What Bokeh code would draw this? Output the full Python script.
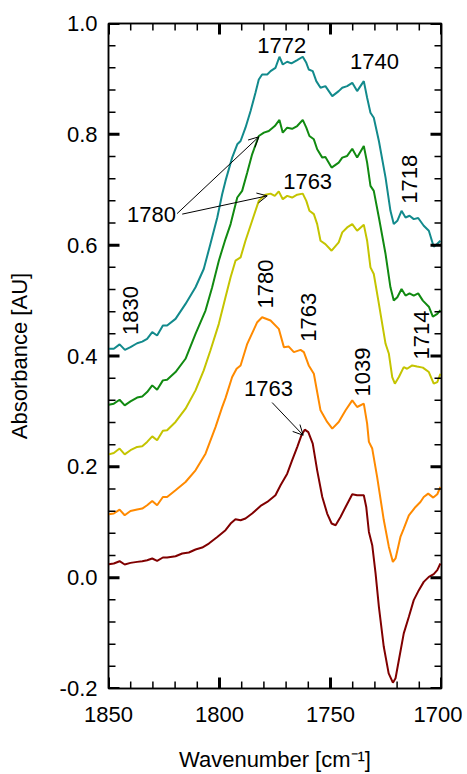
import math
from bokeh.plotting import figure
from bokeh.models import (Range1d, LinearAxis, FixedTicker, PrintfTickFormatter,
                          CustomJSTickFormatter, Label, Arrow, OpenHead)
from bokeh.embed import file_html
from bokeh.resources import INLINE

# (wavenumber, absorbance) pairs
teal = [(1849.9, 0.413), (1847.6, 0.413), (1845.0, 0.421), (1842.6, 0.411), (1840.1, 0.416),
        (1837.1, 0.423), (1834.8, 0.426), (1832.6, 0.431), (1830.3, 0.443), (1828.1, 0.437),
        (1825.5, 0.455), (1823.6, 0.455), (1819.8, 0.467), (1815.3, 0.494), (1810.8, 0.524),
        (1807.1, 0.557), (1804.1, 0.602), (1801.0, 0.650), (1798.8, 0.692), (1797.3, 0.716),
        (1794.3, 0.758), (1792.0, 0.782), (1790.5, 0.788), (1788.3, 0.812), (1786.0, 0.842),
        (1783.8, 0.875), (1782.3, 0.899), (1780.8, 0.908), (1778.5, 0.908), (1777.0, 0.914),
        (1774.8, 0.920), (1773.0, 0.940), (1771.5, 0.926), (1769.5, 0.931), (1767.6, 0.928),
        (1765.0, 0.934), (1762.5, 0.940), (1760.9, 0.929), (1759.8, 0.917), (1758.0, 0.914),
        (1756.4, 0.896), (1754.5, 0.884), (1752.3, 0.887), (1749.2, 0.869), (1746.3, 0.878),
        (1744.7, 0.884), (1742.5, 0.887), (1740.2, 0.893), (1738.0, 0.878), (1735.0, 0.896),
        (1733.5, 0.866), (1732.0, 0.839), (1730.5, 0.830), (1728.2, 0.788), (1725.2, 0.722),
        (1723.0, 0.662), (1721.5, 0.638), (1719.9, 0.644), (1718.0, 0.662), (1716.2, 0.650),
        (1714.4, 0.653), (1712.5, 0.647), (1710.5, 0.649), (1708.0, 0.635), (1705.7, 0.626),
        (1703.5, 0.597), (1702.0, 0.602), (1700.5, 0.608)]

green = [(1849.9, 0.312), (1847.6, 0.314), (1845.0, 0.321), (1842.7, 0.311), (1840.1, 0.318),
         (1837.1, 0.325), (1834.8, 0.327), (1832.6, 0.335), (1830.3, 0.347), (1828.1, 0.339),
         (1825.5, 0.356), (1823.6, 0.357), (1819.8, 0.371), (1815.3, 0.395), (1810.8, 0.440),
         (1806.3, 0.482), (1803.3, 0.524), (1800.3, 0.572), (1797.3, 0.611), (1795.0, 0.638),
         (1792.0, 0.686), (1789.8, 0.698), (1787.5, 0.731), (1785.3, 0.764), (1782.3, 0.797),
         (1780.0, 0.803), (1777.8, 0.806), (1775.1, 0.815), (1773.0, 0.826), (1771.5, 0.803),
         (1769.5, 0.812), (1767.3, 0.810), (1765.0, 0.815), (1762.5, 0.826), (1760.9, 0.812),
         (1759.5, 0.797), (1757.5, 0.791), (1756.0, 0.773), (1753.7, 0.758), (1752.3, 0.759),
         (1749.5, 0.740), (1746.3, 0.749), (1744.7, 0.758), (1742.5, 0.761), (1740.2, 0.774),
         (1738.0, 0.758), (1735.0, 0.779), (1733.5, 0.749), (1732.0, 0.707), (1730.5, 0.698),
         (1728.2, 0.650), (1725.2, 0.584), (1723.0, 0.524), (1721.5, 0.500), (1719.9, 0.506),
         (1718.0, 0.521), (1716.2, 0.509), (1714.4, 0.513), (1712.5, 0.509), (1710.5, 0.513),
         (1708.4, 0.500), (1705.7, 0.489), (1703.9, 0.471), (1701.9, 0.476), (1700.5, 0.483)]

yellow = [(1849.9, 0.2225), (1847.6, 0.225), (1845.0, 0.233), (1842.7, 0.2225), (1840.1, 0.230),
          (1837.1, 0.236), (1834.8, 0.237), (1832.6, 0.245), (1830.3, 0.255), (1828.1, 0.248),
          (1825.5, 0.265), (1823.6, 0.266), (1819.8, 0.281), (1815.3, 0.305), (1810.8, 0.338),
          (1807.1, 0.374), (1804.1, 0.410), (1800.3, 0.458), (1797.3, 0.506), (1795.0, 0.542),
          (1792.8, 0.572), (1790.5, 0.578), (1788.3, 0.608), (1785.3, 0.644), (1782.3, 0.680),
          (1779.3, 0.691), (1777.0, 0.693), (1775.1, 0.689), (1773.3, 0.697), (1771.5, 0.683),
          (1769.5, 0.689), (1767.3, 0.686), (1765.0, 0.691), (1762.5, 0.693), (1760.9, 0.680),
          (1759.5, 0.662), (1757.5, 0.656), (1756.0, 0.638), (1754.5, 0.608), (1752.3, 0.602),
          (1749.5, 0.590), (1746.3, 0.605), (1744.7, 0.623), (1742.5, 0.632), (1740.2, 0.638),
          (1738.0, 0.626), (1735.0, 0.637), (1733.5, 0.608), (1732.0, 0.560), (1730.5, 0.548),
          (1728.2, 0.494), (1725.2, 0.422), (1723.7, 0.404), (1722.2, 0.362), (1721.0, 0.350),
          (1719.2, 0.362), (1717.0, 0.380), (1715.5, 0.377), (1713.2, 0.383), (1711.0, 0.381),
          (1708.4, 0.379), (1705.7, 0.371), (1703.5, 0.350), (1701.9, 0.353), (1700.5, 0.368)]

orange = [(1849.9, 0.1144), (1847.6, 0.1157), (1845.0, 0.1229), (1842.7, 0.1126), (1840.1, 0.1204),
          (1837.1, 0.1229), (1834.8, 0.1247), (1832.6, 0.1306), (1830.3, 0.1384), (1828.1, 0.1306),
          (1825.5, 0.1456), (1823.6, 0.1456), (1819.8, 0.1577), (1815.3, 0.1726), (1810.8, 0.1937),
          (1806.3, 0.2238), (1801.8, 0.2717), (1798.8, 0.3077), (1797.3, 0.324), (1794.3, 0.362),
          (1792.3, 0.377), (1790.5, 0.383), (1787.5, 0.422), (1783.0, 0.461), (1780.8, 0.470),
          (1777.0, 0.464), (1773.3, 0.449), (1771.0, 0.416), (1768.8, 0.417), (1766.5, 0.407),
          (1763.5, 0.411), (1762.0, 0.407), (1759.8, 0.383), (1757.5, 0.368), (1754.5, 0.302),
          (1751.5, 0.281), (1749.2, 0.269), (1746.3, 0.281), (1743.2, 0.302), (1740.2, 0.320),
          (1738.0, 0.308), (1735.0, 0.314), (1733.5, 0.278), (1732.7, 0.245), (1731.2, 0.233),
          (1729.0, 0.182), (1726.0, 0.104), (1723.7, 0.0555), (1721.9, 0.0285), (1720.7, 0.0346),
          (1718.5, 0.0735), (1717.0, 0.0886), (1714.7, 0.1126), (1711.7, 0.1276), (1709.5, 0.1366),
          (1708.0, 0.1456), (1706.0, 0.1517), (1703.7, 0.1445), (1701.9, 0.1505), (1700.5, 0.1636)]

darkred = [(1849.9, 0.0243), (1847.6, 0.0256), (1845.0, 0.0297), (1842.7, 0.0238), (1840.1, 0.0267),
           (1837.1, 0.0285), (1834.8, 0.0297), (1832.6, 0.0315), (1830.3, 0.0346), (1828.1, 0.0303),
           (1825.5, 0.0364), (1823.6, 0.0364), (1819.8, 0.0387), (1816.8, 0.0436), (1813.8, 0.0454),
           (1810.8, 0.0508), (1807.8, 0.0544), (1804.8, 0.0616), (1801.0, 0.0735), (1797.3, 0.0856),
           (1795.0, 0.0977), (1792.8, 0.1054), (1790.5, 0.1036), (1788.3, 0.1067), (1785.3, 0.1157),
           (1781.5, 0.1294), (1778.5, 0.1366), (1774.8, 0.1486), (1772.5, 0.1667), (1769.5, 0.1877),
           (1767.3, 0.2117), (1765.0, 0.2357), (1763.1, 0.2568), (1761.6, 0.267), (1760.0, 0.2627),
           (1758.0, 0.2418), (1756.0, 0.1937), (1753.7, 0.1456), (1751.5, 0.1157), (1749.5, 0.0977),
           (1747.7, 0.0946), (1745.5, 0.1095), (1743.2, 0.1276), (1740.2, 0.1505), (1738.0, 0.1486),
           (1735.0, 0.1486), (1733.9, 0.1276), (1732.7, 0.0825), (1731.2, 0.0586), (1729.7, 0.0076),
           (1728.2, -0.0526), (1726.0, -0.1247), (1723.8, -0.1726), (1721.9, -0.1895), (1720.7, -0.1816),
           (1719.2, -0.1486), (1717.0, -0.1005), (1714.7, -0.0706), (1712.5, -0.0405), (1710.2, -0.0225),
           (1708.0, -0.0076), (1705.7, 0.0014), (1703.5, 0.0063), (1701.9, 0.0135), (1700.5, 0.0256)]

series = [(teal, "#128a8c"), (green, "#118a11"), (yellow, "#c4c400"),
          (orange, "#ff8a00"), (darkred, "#800000")]

x_major = [1850, 1800, 1750, 1700]
x_minor = [x for x in range(1700, 1851, 10) if x not in x_major]
y_major = [-0.2, 0.0, 0.2, 0.4, 0.6, 0.8, 1.0]
y_minor = [round(-0.2 + 0.04 * i, 2) for i in range(31)]
y_minor = [v for v in y_minor if all(abs(v - m) > 1e-6 for m in y_major)]

X0, X1 = 1850, 1700
Y0, Y1 = -0.2, 1.0
FW, FH = 333, 666          # frame size in px
FONT = "Liberation Sans"
FS = "22px"

p = figure(width=462, height=774, output_backend="svg", toolbar_location=None,
           x_range=Range1d(X0, X1), y_range=Range1d(Y0, Y1),
           min_border_left=108, min_border_right=21, min_border_top=23, min_border_bottom=85,
           background_fill_color="white", border_fill_color="white")
p.grid.visible = False
p.outline_line_color = "black"
p.outline_line_width = 1.5

for data, col in series:
    xs = [d[0] for d in data]
    ys = [d[1] for d in data]
    p.line(xs, ys, line_color=col, line_width=2)

# inward tick marks on all four sides (lengths in px converted to data units)
dx = (X0 - X1) / FW
dy = (Y1 - Y0) / FH
for ticks, L, w in [(x_major, 11, 3), (x_minor, 7, 1.5)]:
    p.segment(x0=ticks, y0=[Y0] * len(ticks), x1=ticks, y1=[Y0 + L * dy] * len(ticks),
              line_color="black", line_width=w)
    p.segment(x0=ticks, y0=[Y1] * len(ticks), x1=ticks, y1=[Y1 - L * dy] * len(ticks),
              line_color="black", line_width=w)
for ticks, L, w in [(y_major, 11, 3), (y_minor, 7, 1.5)]:
    p.segment(x0=[X0] * len(ticks), y0=ticks, x1=[X0 - L * dx] * len(ticks), y1=ticks,
              line_color="black", line_width=w)
    p.segment(x0=[X1] * len(ticks), y0=ticks, x1=[X1 + L * dx] * len(ticks), y1=ticks,
              line_color="black", line_width=w)

def style_axis(ax, labels=True):
    ax.axis_line_color = "black"
    ax.axis_line_width = 1.5
    ax.major_tick_in = 0
    ax.major_tick_out = 0
    ax.minor_tick_in = 0
    ax.minor_tick_out = 0
    ax.major_label_text_font = FONT
    ax.major_label_text_font_size = FS
    ax.major_label_text_color = "black"
    ax.axis_label_text_font = FONT
    ax.axis_label_text_font_size = FS
    ax.axis_label_text_font_style = "normal"
    ax.axis_label_text_color = "black"
    if not labels:
        ax.formatter = CustomJSTickFormatter(code="return ''")
        ax.major_label_standoff = 0

xb = p.xaxis[0]
xb.ticker = FixedTicker(ticks=x_major)
xb.axis_label = "Wavenumber [cm\u207b\u00b9]"
style_axis(xb)
xb.major_label_standoff = 18
xb.axis_label_standoff = 22

yl = p.yaxis[0]
yl.ticker = FixedTicker(ticks=y_major)
yl.formatter = PrintfTickFormatter(format="%.1f")
yl.axis_label = "Absorbance [AU]"
style_axis(yl)
yl.major_label_standoff = 11
yl.axis_label_standoff = 25

xt = LinearAxis(ticker=FixedTicker(ticks=x_major))
style_axis(xt, labels=False)
p.add_layout(xt, "above")
yr = LinearAxis(ticker=FixedTicker(ticks=y_major))
style_axis(yr, labels=False)
p.add_layout(yr, "right")

def lab(x, y, text, angle=0.0):
    p.add_layout(Label(x=x, y=y, text=text, angle=angle, text_align="center",
                       text_baseline="middle", text_font=FONT, text_font_size=FS,
                       text_color="black"))

V = math.pi / 2
lab(1772, 0.960, "1772")
lab(1730.2, 0.932, "1740")
lab(1760.3, 0.715, "1763")
lab(1830.6, 0.656, "1780")
lab(1777.9, 0.341, "1763")
lab(1714.4, 0.719, "1718", V)
lab(1840.3, 0.482, "1830", V)
lab(1779.3, 0.530, "1780", V)
lab(1759.8, 0.470, "1763", V)
lab(1735.7, 0.371, "1039", V)
lab(1709.1, 0.438, "1714", V)

for xs_, ys_, xe_, ye_ in [(1819.1, 0.657, 1782.3, 0.7955),
                           (1816.8, 0.656, 1778.5, 0.689),
                           (1776.3, 0.316, 1762.3, 0.257)]:
    p.add_layout(Arrow(end=OpenHead(size=10, line_width=1, line_color="black"),
                       x_start=xs_, y_start=ys_, x_end=xe_, y_end=ye_,
                       line_width=1, line_color="black"))

open("out.html", "w").write(file_html(p, INLINE))
